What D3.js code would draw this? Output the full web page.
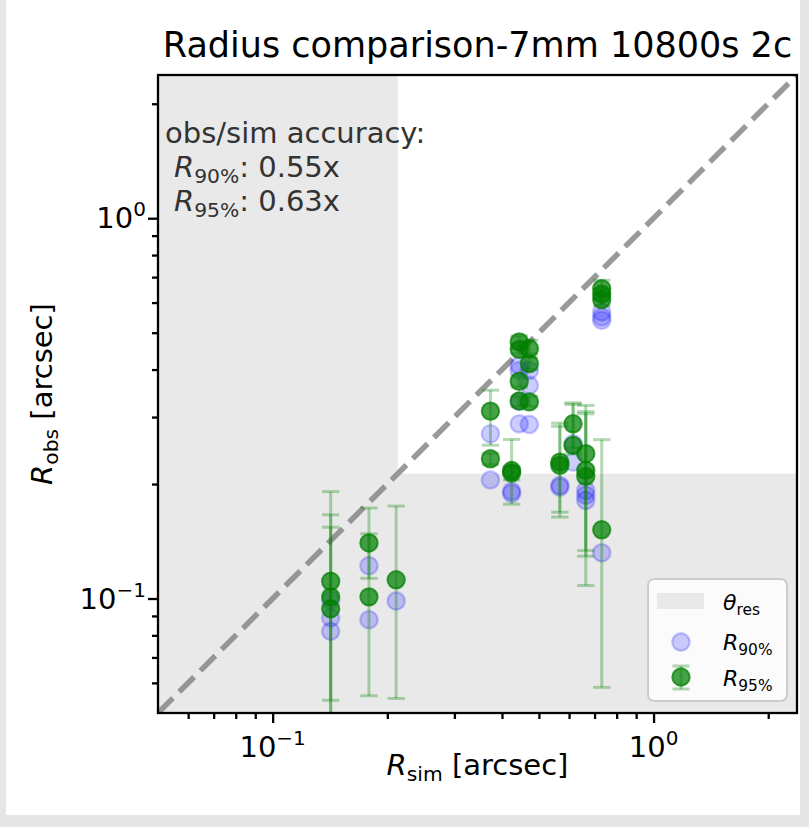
<!DOCTYPE html>
<html><head><meta charset="utf-8">
<script src="https://cdn.jsdelivr.net/npm/d3@7"></script>
<style>
body{margin:0;background:#e6e6e6;}
svg{display:block;font-family:"DejaVu Sans",sans-serif;}
</style>
</head><body>
<svg id="c" width="809" height="827"></svg>
<script>
// ---- data ----
const simR     = [0.142,0.142,0.142, 0.179,0.179, 0.211, 0.373,0.373, 0.424,0.424,
                  0.444,0.444,0.444,0.444, 0.472,0.472,0.472, 0.5675,0.5675, 0.6147,0.6147,
                  0.6637,0.6637,0.6637, 0.731,0.731,0.731,0.731];
const obsR90   = [0.099,0.089,0.082, 0.122,0.088, 0.0985, 0.271,0.205, 0.1915,0.189,
                  0.41,0.398,0.33,0.288, 0.398,0.3636,0.287, 0.1983,0.1963, 0.2552,0.2284,
                  0.1924,0.187,0.181, 0.567,0.55,0.539,0.1319];
const obsR95   = [0.111,0.101,0.094, 0.140,0.101, 0.112, 0.311,0.233, 0.217,0.214,
                  0.473,0.452,0.3725,0.3306, 0.454,0.4147,0.329, 0.2284,0.2239, 0.288,0.2527,
                  0.2403,0.2173,0.2095, 0.653,0.631,0.611,0.1516];
const obsR95Lo = [0.03,0.035,0.054, 0.113,0.0555, 0.0546, 0.253,0.225, 0.177,0.205,
                  0.455,0.44,0.36,0.32, 0.44,0.40,0.32, 0.1687,0.1637, 0.249,0.24,
                  0.1292,0.1337,0.1082, 0.62,0.61,0.59,0.0584];
const obsR95Hi = [0.191,0.166,0.154, 0.148,0.173, 0.175, 0.353,0.241, 0.262,0.222,
                  0.49,0.465,0.385,0.34, 0.4775,0.43,0.34, 0.2892,0.2836, 0.327,0.324,
                  0.322,0.306,0.31, 0.687,0.65,0.63,0.2616];
const thetaRes   = 0.213;
const axisLimits = [0.05, 2.38];
const majorTicks = [0.1, 1];
const minorTicks = [0.06,0.07,0.08,0.09,0.2,0.3,0.4,0.5,0.6,0.7,0.8,0.9,2];
const accuracyLabels = ["R90%", "R95%"];
const accuracyValues = ["0.55x", "0.63x"];
const titleText = "Radius comparison-7mm 10800s 2c";

// ---- layout ----
const L = 158, R = 797, T = 75, B = 713;
const svg = d3.select("#c");
svg.append("rect").attr("x",6).attr("y",0).attr("width",794).attr("height",815).attr("fill","#fff");

const x = d3.scaleLog().domain(axisLimits).range([L, R]);
const y = d3.scaleLog().domain(axisLimits).range([B, T]);

svg.append("defs").append("clipPath").attr("id","clip")
  .append("rect").attr("x",L).attr("y",T).attr("width",R-L).attr("height",B-T);

const plot = svg.append("g").attr("clip-path","url(#clip)");

// resolution shading
const shade = "#e9e9e9";
plot.append("rect").attr("x",x(axisLimits[0])).attr("y",y(axisLimits[1]))
  .attr("width",x(thetaRes)-x(axisLimits[0])).attr("height",y(axisLimits[0])-y(axisLimits[1]))
  .attr("fill",shade);
plot.append("rect").attr("x",x(thetaRes)).attr("y",y(thetaRes))
  .attr("width",x(axisLimits[1])-x(thetaRes)).attr("height",y(axisLimits[0])-y(thetaRes))
  .attr("fill",shade);

// 1:1 line
plot.append("line").attr("x1",x(axisLimits[0])).attr("y1",y(axisLimits[0]))
  .attr("x2",x(axisLimits[1])).attr("y2",y(axisLimits[1]))
  .attr("stroke","#808080").attr("stroke-opacity",0.8).attr("stroke-width",5.5)
  .attr("stroke-dasharray","21,9");

const idx = d3.range(simR.length);

// R90 scatter
plot.selectAll("circle.b").data(idx).join("circle").attr("class","b")
  .attr("cx",i=>x(simR[i])).attr("cy",i=>y(obsR90[i])).attr("r",8.7)
  .attr("fill","blue").attr("fill-opacity",0.2)
  .attr("stroke","blue").attr("stroke-opacity",0.2).attr("stroke-width",2.4);

// R95 error bars
const eb = plot.append("g").attr("stroke","green").attr("stroke-opacity",0.3).attr("stroke-width",3);
idx.forEach(i=>{
  const g = eb.append("g");
  const cx = x(simR[i]);
  g.append("line").attr("x1",cx).attr("x2",cx).attr("y1",y(obsR95Lo[i])).attr("y2",y(obsR95Hi[i]));
  g.append("line").attr("x1",cx-8.7).attr("x2",cx+8.7).attr("y1",y(obsR95Lo[i])).attr("y2",y(obsR95Lo[i]));
  g.append("line").attr("x1",cx-8.7).attr("x2",cx+8.7).attr("y1",y(obsR95Hi[i])).attr("y2",y(obsR95Hi[i]));
});

// R95 markers
plot.selectAll("circle.g").data(idx).join("circle").attr("class","g")
  .attr("cx",i=>x(simR[i])).attr("cy",i=>y(obsR95[i])).attr("r",8.7)
  .attr("fill","green").attr("fill-opacity",0.72)
  .attr("stroke","green").attr("stroke-opacity",0.72).attr("stroke-width",2);

// ---- axes ----
function addAxis(axisGen, transform){
  const g = svg.append("g").attr("transform",transform).call(axisGen);
  g.select(".domain").remove();
  g.selectAll("line").attr("stroke","#000").attr("stroke-width",2.3);
  return g;
}
addAxis(d3.axisBottom(x).tickValues(majorTicks).tickSize(10).tickFormat(""), `translate(0,${B})`);
addAxis(d3.axisBottom(x).tickValues(minorTicks).tickSize(6).tickFormat(""), `translate(0,${B})`);
addAxis(d3.axisLeft(y).tickValues(majorTicks).tickSize(10).tickFormat(""), `translate(${L},0)`);
addAxis(d3.axisLeft(y).tickValues(minorTicks).tickSize(6).tickFormat(""), `translate(${L},0)`);

// frame
svg.append("rect").attr("x",L).attr("y",T).attr("width",R-L).attr("height",B-T)
  .attr("fill","none").attr("stroke","#000").attr("stroke-width",2.3);

function powLabel(sel, v){
  const e = Math.round(Math.log10(v));
  sel.append("tspan").text("10");
  sel.append("tspan").attr("font-size",20).attr("dy",-12).text(e<0 ? "\u2212"+(-e) : String(e));
}
majorTicks.forEach(v=>{
  const t = svg.append("text").attr("x",x(v)).attr("y",757).attr("text-anchor","middle")
    .attr("font-size",29).attr("fill","#000");
  powLabel(t,v);
  const t2 = svg.append("text").attr("x",146).attr("y",y(v)+10).attr("text-anchor","end")
    .attr("font-size",29).attr("fill","#000");
  powLabel(t2,v);
});

// axis labels
function subLabel(sel, main, sub, rest, fs){
  sel.append("tspan").attr("font-style","italic").text(main);
  sel.append("tspan").attr("font-size",fs*0.7).attr("dy",fs*0.22).text(sub);
  if(rest) sel.append("tspan").attr("dy",-fs*0.22).text(rest);
}
const xl = svg.append("text").attr("x",(L+R)/2).attr("y",775).attr("text-anchor","middle").attr("font-size",29);
subLabel(xl,"R","sim"," [arcsec]",29);
const yl = svg.append("text").attr("transform",`translate(52,${(T+B)/2}) rotate(-90)`)
  .attr("text-anchor","middle").attr("font-size",29);
subLabel(yl,"R","obs"," [arcsec]",29);

// title
svg.append("text").attr("x",(L+R)/2).attr("y",57).attr("text-anchor","middle")
  .attr("font-size",35).attr("fill","#000").text(titleText);

// annotation
const ann = svg.append("g").attr("fill","#333").attr("font-size",29);
ann.append("text").attr("x",165).attr("y",143).text("obs/sim accuracy:");
accuracyLabels.forEach((lab,k)=>{
  const t = ann.append("text").attr("x",174).attr("y",177+k*34).attr("font-size",29);
  subLabel(t, lab[0], lab.slice(1), ": "+accuracyValues[k], 29);
});

// legend
const lg = svg.append("g");
lg.append("rect").attr("x",648).attr("y",579).attr("width",139).attr("height",122).attr("rx",6)
  .attr("fill","#fff").attr("fill-opacity",0.8).attr("stroke","#cccccc").attr("stroke-width",2);
lg.append("rect").attr("x",657).attr("y",593).attr("width",47).attr("height",16).attr("fill",shade);
lg.append("circle").attr("cx",681).attr("cy",642).attr("r",8.7)
  .attr("fill","blue").attr("fill-opacity",0.2).attr("stroke","blue").attr("stroke-opacity",0.2).attr("stroke-width",2.4);
const lge = lg.append("g").attr("stroke","green").attr("stroke-opacity",0.3).attr("stroke-width",3);
lge.append("line").attr("x1",681).attr("x2",681).attr("y1",666).attr("y2",689);
lge.append("line").attr("x1",672.5).attr("x2",689.5).attr("y1",666).attr("y2",666);
lge.append("line").attr("x1",672.5).attr("x2",689.5).attr("y1",689).attr("y2",689);
lg.append("circle").attr("cx",681).attr("cy",677).attr("r",8.7)
  .attr("fill","green").attr("fill-opacity",0.72).attr("stroke","green").attr("stroke-opacity",0.72).attr("stroke-width",2);
const lt1 = lg.append("text").attr("x",723).attr("y",610).attr("font-size",22);
subLabel(lt1,"\u03B8","res",null,22);
const lt2 = lg.append("text").attr("x",723).attr("y",650).attr("font-size",22);
subLabel(lt2,"R","90%",null,22);
const lt3 = lg.append("text").attr("x",723).attr("y",686).attr("font-size",22);
subLabel(lt3,"R","95%",null,22);
</script>
</body></html>
